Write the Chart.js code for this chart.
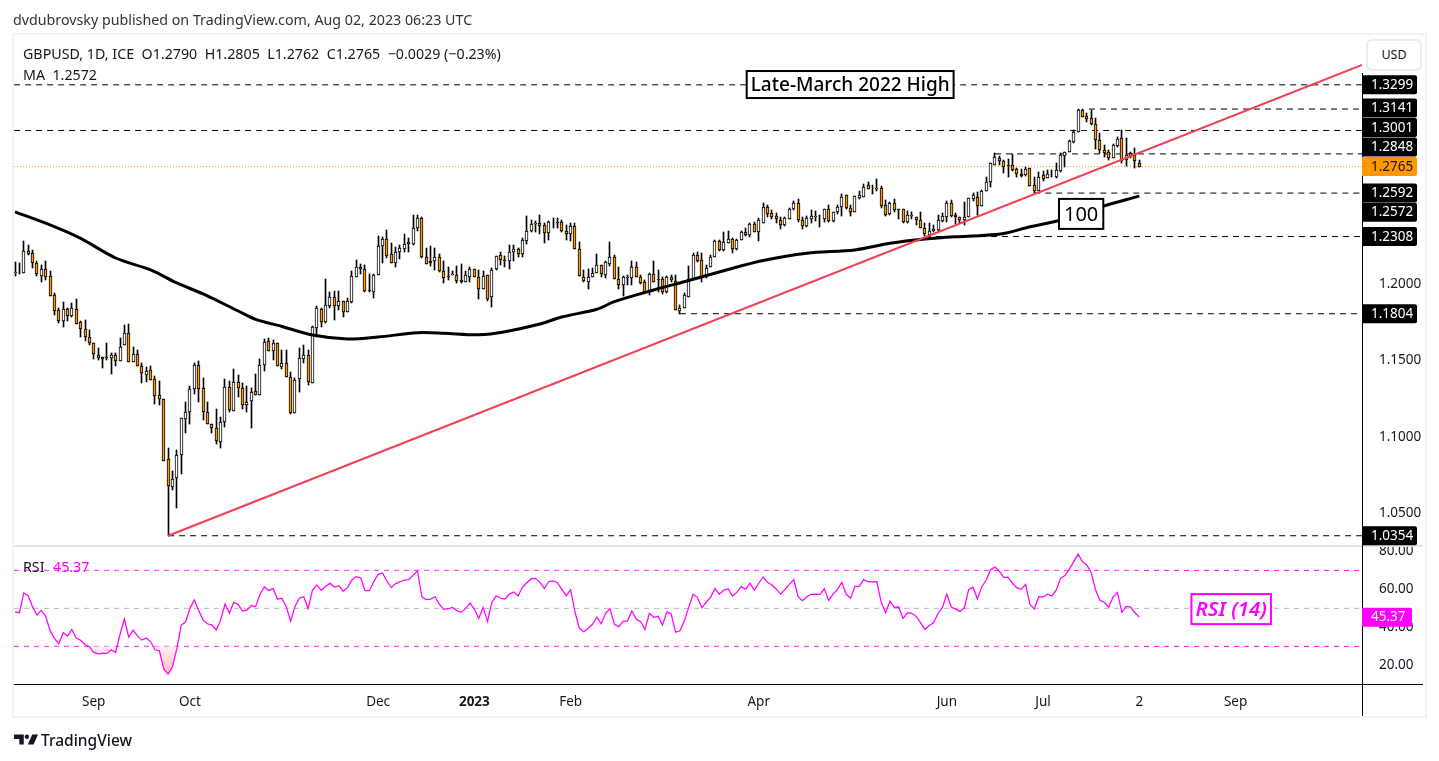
<!DOCTYPE html>
<html>
<head>
<meta charset="utf-8">
<title>GBPUSD</title>
<script src="https://cdn.jsdelivr.net/npm/chart.js@4"></script>
<style>
  html, body { margin: 0; padding: 0; background: #fff; width: 1439px; height: 761px; overflow: hidden; }
  body { font-family: "Noto Sans", sans-serif; color: #131722; }
  #chart { position: absolute; left: 0; top: 0; }
  .frame { position: absolute; left: 12px; top: 33px; width: 1411px; height: 681px; border: 2px solid #f0f3fa; }
  .txt { position: absolute; white-space: pre; font-size: 14.25px; line-height: 18px; }
  .usd { position: absolute; left: 1366px; top: 39px; width: 52px; height: 28px; border: 2px solid #e9ecf2; border-radius: 6px;
         background: #fff; text-align: center; line-height: 28px; font-size: 12.5px; }
</style>
</head>
<body>
<div class="frame"></div>
<canvas id="chart" width="1439" height="761"></canvas>
<div class="txt" style="left:13px;top:11px;color:#333">dvdubrovsky published on TradingView.com, Aug 02, 2023 06:23 UTC</div>
<div class="txt" style="left:23px;top:45px">GBPUSD, 1D, ICE  O1.2790  H1.2805  L1.2762  C1.2765  −0.0029 (−0.23%)</div>
<div class="txt" style="left:23px;top:66px">MA  1.2572</div>
<div class="txt" style="left:23px;top:558px">RSI</div>
<div class="txt" style="left:53px;top:558px;color:#ff00ff">45.37</div>
<div class="usd">USD</div>
<svg style="position:absolute;left:14px;top:733px" width="24" height="13" viewBox="0 0 27 13">
  <path fill="#131722" d="M0 1h11v11H6V6H0z"/><circle fill="#131722" cx="14.5" cy="3.5" r="2.5"/><path fill="#131722" d="M20.5 1H27l-5 11h-6.500z"/>
</svg>
<div class="txt" style="left:41px;top:731px;font-size:15.5px;font-weight:500">TradingView</div>

<script>
// ----------------------------
// Candles (one entry per trading day)
// ----------------------------
const opens = [
  1.2072,1.2074,1.2073,1.2214,1.2199,1.2134,1.2053,1.2094,1.2049,1.1925,
  1.1827,1.1759,1.1833,1.1792,1.1833,1.1748,1.1703,1.1649,1.1611,1.1537,
  1.1507,1.1519,1.1513,1.1533,1.1498,1.1598,1.1677,1.1487,1.1539,1.1465,
  1.1406,1.1435,1.1376,1.1272,1.1250,1.0854,1.0671,1.0730,1.0880,1.1119,
  1.1161,1.1315,1.1468,1.1317,1.1161,1.1082,1.1056,1.0965,1.1095,1.1324,
  1.1167,1.1357,1.1317,1.1210,1.1232,1.1298,1.1272,1.1468,1.1624,1.1563,
  1.1611,1.1458,1.1481,1.1389,1.1158,1.1376,1.1511,1.1537,1.1350,1.1709,
  1.1833,1.1752,1.1857,1.1912,1.1857,1.1885,1.1818,1.1883,1.2046,1.2108,
  1.2094,1.1957,1.1948,1.2055,1.2249,1.2290,1.2192,1.2134,1.2205,1.2229,
  1.2258,1.2262,1.2366,1.2428,1.2177,1.2147,1.2151,1.2177,1.2081,1.2049,
  1.2057,1.2059,1.2023,1.2013,1.2046,1.2098,1.2042,1.1964,1.2055,1.1912,
  1.2094,1.2186,1.2155,1.2147,1.2205,1.2225,1.2194,1.2281,1.2347,1.2390,
  1.2395,1.2382,1.2330,1.2400,1.2405,1.2401,1.2347,1.2323,1.2377,1.2225,
  1.2046,1.2013,1.2042,1.2068,1.2121,1.2059,1.2131,1.2173,1.2029,1.1994,
  1.2037,1.2037,1.2111,1.2042,1.2010,1.1944,1.2062,1.2029,1.2029,1.1944,
  1.2042,1.2020,1.1824,1.1840,1.1916,1.2029,1.2186,1.2155,1.2042,1.2108,
  1.2177,1.2277,1.2219,1.2264,1.2290,1.2229,1.2284,1.2336,1.2317,1.2390,
  1.2336,1.2395,1.2501,1.2460,1.2443,1.2416,1.2382,1.2425,1.2486,1.2525,
  1.2414,1.2377,1.2425,1.2434,1.2441,1.2425,1.2486,1.2408,1.2467,1.2499,
  1.2578,1.2493,1.2471,1.2562,1.2569,1.2645,1.2617,1.2621,1.2623,1.2514,
  1.2456,1.2527,1.2488,1.2488,1.2403,1.2443,1.2434,1.2414,1.2366,1.2320,
  1.2343,1.2351,1.2412,1.2436,1.2527,1.2449,1.2438,1.2414,1.2438,1.2556,
  1.2569,1.2510,1.2608,1.2663,1.2777,1.2819,1.2800,1.2774,1.2773,1.2747,
  1.2715,1.2712,1.2754,1.2643,1.2604,1.2708,1.2689,1.2713,1.2699,1.2738,
  1.2836,1.2858,1.2926,1.2989,1.3135,1.3094,1.3080,1.3041,1.2939,1.2873,
  1.2858,1.2819,1.2902,1.2950,1.2808,1.2852,1.2841,1.2790
];
const highs = [
  1.2142,1.2134,1.2279,1.2253,1.2221,1.2149,1.2123,1.2149,1.2083,1.1938,
  1.1840,1.1879,1.1844,1.1872,1.1901,1.1757,1.1763,1.1698,1.1615,1.1581,
  1.1520,1.1611,1.1546,1.1546,1.1648,1.1731,1.1737,1.1589,1.1568,1.1481,
  1.1458,1.1463,1.1398,1.1365,1.1250,1.0928,1.0779,1.0915,1.1121,1.1230,
  1.1332,1.1485,1.1496,1.1383,1.1226,1.1084,1.1182,1.1132,1.1376,1.1365,
  1.1443,1.1404,1.1350,1.1332,1.1317,1.1409,1.1507,1.1639,1.1648,1.1633,
  1.1611,1.1568,1.1568,1.1426,1.1385,1.1581,1.1600,1.1568,1.1726,1.1855,
  1.1840,1.2031,1.1944,1.1955,1.1955,1.1885,1.1905,1.2083,1.2155,1.2129,
  1.2123,1.2064,1.2064,1.2312,1.2307,1.2351,1.2266,1.2242,1.2253,1.2323,
  1.2301,1.2449,1.2449,1.2434,1.2234,1.2247,1.2232,1.2194,1.2149,1.2111,
  1.2083,1.2116,1.2127,1.2085,1.2111,1.2098,1.2090,1.2083,1.2055,1.2101,
  1.2179,1.2205,1.2181,1.2253,1.2253,1.2236,1.2301,1.2443,1.2416,1.2407,
  1.2449,1.2399,1.2410,1.2431,1.2427,1.2416,1.2384,1.2395,1.2395,1.2271,
  1.2090,1.2094,1.2101,1.2192,1.2123,1.2149,1.2271,1.2188,1.2111,1.2051,
  1.2057,1.2149,1.2144,1.2057,1.2025,1.2068,1.2149,1.2090,1.2042,1.2053,
  1.2057,1.2057,1.1861,1.1938,1.2116,1.2199,1.2209,1.2199,1.2123,1.2188,
  1.2286,1.2286,1.2336,1.2345,1.2297,1.2292,1.2346,1.2364,1.2399,1.2403,
  1.2427,1.2525,1.2514,1.2482,1.2460,1.2438,1.2438,1.2497,1.2542,1.2551,
  1.2438,1.2443,1.2482,1.2475,1.2449,1.2486,1.2512,1.2469,1.2512,1.2586,
  1.2578,1.2514,1.2575,1.2606,1.2652,1.2666,1.2645,1.2684,1.2638,1.2547,
  1.2536,1.2554,1.2488,1.2491,1.2477,1.2471,1.2438,1.2471,1.2395,1.2395,
  1.2384,1.2449,1.2460,1.2542,1.2547,1.2460,1.2438,1.2534,1.2562,1.2595,
  1.2599,1.2612,1.2699,1.2787,1.2852,1.2836,1.2808,1.2813,1.2845,1.2758,
  1.2749,1.2764,1.2754,1.2697,1.2732,1.2736,1.2743,1.2743,1.2787,1.2852,
  1.2862,1.2939,1.3004,1.3141,1.3141,1.3113,1.3135,1.3082,1.2985,1.2906,
  1.2873,1.2911,1.2960,1.3001,1.2952,1.2860,1.2886,1.2805
];
const lows = [
  1.2051,1.2064,1.2073,1.2190,1.2105,1.2051,1.2013,1.2025,1.1922,1.1796,
  1.1746,1.1720,1.1759,1.1785,1.1739,1.1654,1.1628,1.1602,1.1507,1.1502,
  1.1448,1.1502,1.1409,1.1465,1.1498,1.1598,1.1487,1.1487,1.1461,1.1354,
  1.1359,1.1370,1.1215,1.1210,1.0841,1.0354,1.0653,1.0538,1.0758,1.1027,
  1.1084,1.1280,1.1230,1.1110,1.1086,1.1024,1.0956,1.0926,1.1063,1.1165,
  1.1167,1.1259,1.1180,1.1165,1.1060,1.1276,1.1272,1.1432,1.1561,1.1502,
  1.1465,1.1441,1.1389,1.1152,1.1154,1.1295,1.1483,1.1337,1.1350,1.1650,
  1.1716,1.1742,1.1840,1.1763,1.1829,1.1785,1.1818,1.1872,1.2046,1.2064,
  1.1948,1.1948,1.1905,1.2055,1.2138,1.2170,1.2134,1.2111,1.2160,1.2209,
  1.2209,1.2253,1.2347,1.2166,1.2127,1.2118,1.2090,1.2075,1.2003,1.2025,
  1.2057,1.2003,1.2007,1.2013,1.2010,1.2042,1.1902,1.1964,1.1885,1.1846,
  1.2092,1.2121,1.2108,1.2094,1.2149,1.2177,1.2177,1.2260,1.2335,1.2338,
  1.2325,1.2268,1.2286,1.2362,1.2362,1.2336,1.2286,1.2281,1.2225,1.2053,
  1.2013,1.1968,1.2042,1.2068,1.2046,1.2036,1.2116,1.2029,1.1966,1.1920,
  1.1992,1.1992,1.2042,1.1997,1.1946,1.1927,1.2013,1.1948,1.1931,1.1938,
  1.2013,1.1827,1.1804,1.1840,1.1912,1.2029,1.2144,1.2013,1.2036,1.2108,
  1.2177,1.2214,1.2214,1.2264,1.2199,1.2221,1.2284,1.2312,1.2303,1.2336,
  1.2281,1.2395,1.2438,1.2421,1.2395,1.2356,1.2379,1.2423,1.2482,1.2405,
  1.2358,1.2373,1.2395,1.2410,1.2373,1.2405,1.2401,1.2403,1.2454,1.2443,
  1.2486,1.2444,1.2471,1.2555,1.2569,1.2621,1.2584,1.2608,1.2493,1.2444,
  1.2449,1.2467,1.2421,1.2399,1.2399,1.2421,1.2384,1.2366,1.2312,1.2308,
  1.2338,1.2347,1.2405,1.2405,1.2438,1.2388,1.2399,1.2384,1.2438,1.2542,
  1.2449,1.2510,1.2608,1.2634,1.2775,1.2775,1.2721,1.2699,1.2736,1.2695,
  1.2695,1.2704,1.2640,1.2592,1.2604,1.2673,1.2689,1.2699,1.2693,1.2732,
  1.2764,1.2858,1.2917,1.2989,1.3087,1.3058,1.3039,1.2878,1.2852,1.2828,
  1.2808,1.2819,1.2895,1.2791,1.2769,1.2821,1.2754,1.2762
];
const closes = [
  1.2078,1.2079,1.2214,1.2196,1.2134,1.2062,1.2094,1.2046,1.1922,1.1824,
  1.1759,1.1833,1.1792,1.1840,1.1739,1.1703,1.1649,1.1616,1.1539,1.1513,
  1.1520,1.1513,1.1533,1.1496,1.1585,1.1677,1.1487,1.1539,1.1461,1.1415,
  1.1428,1.1373,1.1269,1.1250,1.0841,1.0677,1.0723,1.0880,1.1121,1.1161,
  1.1311,1.1468,1.1315,1.1161,1.1086,1.1056,1.0971,1.1095,1.1324,1.1176,
  1.1357,1.1317,1.1210,1.1230,1.1291,1.1276,1.1468,1.1618,1.1563,1.1611,
  1.1465,1.1481,1.1389,1.1158,1.1370,1.1513,1.1537,1.1357,1.1716,1.1840,
  1.1752,1.1859,1.1912,1.1857,1.1885,1.1818,1.1885,1.2051,1.2108,1.2094,
  1.1955,1.1951,1.2057,1.2245,1.2292,1.2183,1.2134,1.2205,1.2232,1.2258,
  1.2271,1.2362,1.2428,1.2177,1.2131,1.2136,1.2177,1.2081,1.2036,1.2042,
  1.2064,1.2020,1.2013,1.2055,1.2094,1.2042,1.1964,1.2049,1.1902,1.2088,
  1.2179,1.2153,1.2147,1.2205,1.2225,1.2192,1.2284,1.2343,1.2390,1.2395,
  1.2375,1.2330,1.2401,1.2405,1.2395,1.2347,1.2323,1.2377,1.2225,1.2053,
  1.2020,1.2046,1.2068,1.2121,1.2062,1.2140,1.2173,1.2029,1.1994,1.2042,
  1.2042,1.2111,1.2046,1.2007,1.1946,1.2062,1.2013,1.2025,1.1944,1.2042,
  1.2023,1.1827,1.1840,1.1925,1.2029,1.2186,1.2151,1.2042,1.2105,1.2177,
  1.2279,1.2219,1.2271,1.2290,1.2229,1.2284,1.2336,1.2317,1.2390,1.2336,
  1.2416,1.2501,1.2457,1.2438,1.2421,1.2382,1.2427,1.2486,1.2525,1.2416,
  1.2377,1.2427,1.2441,1.2441,1.2445,1.2486,1.2412,1.2469,1.2499,1.2565,
  1.2493,1.2467,1.2573,1.2578,1.2630,1.2621,1.2621,1.2625,1.2508,1.2447,
  1.2527,1.2482,1.2484,1.2403,1.2449,1.2448,1.2418,1.2366,1.2323,1.2343,
  1.2356,1.2414,1.2443,1.2527,1.2444,1.2434,1.2416,1.2438,1.2560,1.2578,
  1.2510,1.2608,1.2663,1.2787,1.2826,1.2800,1.2764,1.2770,1.2741,1.2715,
  1.2706,1.2749,1.2640,1.2604,1.2695,1.2686,1.2715,1.2708,1.2741,1.2839,
  1.2858,1.2932,1.2989,1.3135,1.3091,1.3076,1.3041,1.2939,1.2872,1.2856,
  1.2823,1.2906,1.2943,1.2802,1.2841,1.2836,1.2802,1.2765
];

// ----------------------------
// Indicators
// ----------------------------
const maBars = [0,8,15,23,31,37,43,51,55,61,68,76,83,92,98,106,112,120,125,133,137,146,154,163,171,181,192,200,208,215,221,226,231,240,248,257];
const maValues = [1.2469,1.2384,1.2296,1.2168,1.2090,1.2005,1.1933,1.1822,1.1767,1.1721,1.1665,1.1639,1.1652,1.1680,1.1677,1.1667,1.1687,1.1737,1.1783,1.1833,1.1883,1.1959,1.2021,1.2093,1.2152,1.2199,1.2221,1.2264,1.2292,1.2307,1.2315,1.2328,1.2364,1.2423,1.2501,1.2572];
const rsiValues = [
  48.2,47.7,58.1,56.7,50.9,46.5,48.9,46.0,38.4,34.2,
  31.4,37.2,35.4,38.9,34.4,33.2,31.0,29.8,26.8,26.1,
  26.3,26.3,28.2,26.8,36.3,44.4,34.9,38.6,35.4,33.3,
  34.4,32.4,28.2,27.7,18.1,15.4,19.3,28.9,41.2,42.8,
  50.0,54.4,48.8,43.8,41.9,41.2,38.6,43.8,52.3,47.5,
  53.2,52.1,48.6,49.1,51.4,50.9,57.4,61.4,59.3,60.5,
  54.9,55.3,50.9,43.3,51.0,55.3,56.1,50.0,59.6,62.3,
  59.5,61.6,63.2,61.2,61.9,59.0,60.9,64.9,66.7,66.1,
  59.5,59.3,64.0,67.9,68.6,64.4,60.9,63.0,64.0,64.9,
  65.1,67.5,69.8,56.1,54.6,54.9,56.1,52.1,49.5,49.8,
  50.5,48.8,47.9,50.0,52.8,49.6,44.7,
  50.5,43.0,53.2,56.6,55.3,54.9,57.5,58.6,56.5,61.2,
  63.5,65.6,65.8,63.7,60.5,64.0,64.4,63.5,60.0,56.6,
  59.8,48.2,39.5,37.7,39.5,41.6,45.4,41.9,47.4,49.8,
  41.7,40.2,43.3,43.3,48.6,44.4,43.0,38.9,47.4,45.3,
  45.8,41.2,48.1,47.0,37.4,38.2,43.3,50.5,57.4,55.8,
  50.3,53.2,55.8,60.5,57.4,59.5,60.3,56.5,58.4,61.4,
  60.0,63.3,59.5,63.2,66.5,63.7,62.3,60.2,57.5,60.0,
  62.6,65.1,56.1,54.0,56.1,57.4,57.5,57.4,60.3,54.2,
  57.5,60.0,63.7,57.4,55.3,61.6,61.7,65.1,64.0,63.9,
  64.0,53.2,47.7,53.8,50.5,50.7,44.7,47.7,47.4,45.8,
  42.5,38.9,41.0,42.5,47.4,50.5,57.5,
  50.7,49.6,48.4,50.3,60.0,61.0,54.9,61.4,64.9,70.3,
  71.7,69.6,66.3,66.3,63.2,60.9,60.0,62.6,52.1,49.6,
  56.1,56.0,57.4,56.5,59.6,65.8,67.2,70.5,74.6,78.6,
  74.6,72.8,68.8,59.6,54.2,53.2,50.5,56.1,58.4,47.9,
  51.0,50.7,47.7,45.37
];

// ----------------------------
// Axes, levels and labels
// ----------------------------
const timeTickBars = [18,40,83,105,127,170,213,235,257,279];
const timeTickLabels = ["Sep","Oct","Dec","2023","Feb","Apr","Jun","Jul","2","Sep"];
const priceTicks = [1.05,1.10,1.15,1.20];
const rsiTicks = [20,40,60,80];
const rsiBands = [70,30];

const levelValues = [1.3299,1.3141,1.3001,1.2848,1.2592,1.2308,1.1804,1.0354];
const levelStartBars = [-0.2,245.5,-0.2,224,233,208,152,35];
const trendBars = [35,307.9];
const trendValues = [1.0354,1.3429];
const lastPrice = 1.2765;
const lastRsi = 45.37;

const tagValues = [1.3299,1.3141,1.3001,1.2848,1.2592,1.2572,1.2308,1.1804,1.0354];
const tagShifts = [0,-1,-3,-7,0,16,0,0,0];

const FONT = '"Noto Sans", sans-serif';
const AXIS_END = 307.9;
const AXIS_START = -0.23;
const ORANGE = "#ff9800";
const MAGENTA = "#ff00ff";

const ctx2d = document.getElementById("chart").getContext("2d");
const oversoldFill = ctx2d.createLinearGradient(0, 646, 0, 676);
oversoldFill.addColorStop(0, "#fff0f0");
oversoldFill.addColorStop(1, "#ffbcbc");

// ----------------------------
// Plugins
// ----------------------------
// Snap candles to whole pixels, the way the original is drawn
const snapCandles = {
  id: "snapCandles",
  afterDatasetsUpdate(chart) {
    chart.data.datasets.forEach((ds, i) => {
      if (ds.type !== "bar") return;
      chart.getDatasetMeta(i).data.forEach(el => {
        el.x = Math.floor(el.x) + 0.5;
        el.y = Math.round(el.y);
        el.base = Math.round(el.base);
      });
    });
  }
};

const paneLines = {
  id: "paneLines",
  afterDatasetsDraw(chart) {
    const { ctx, chartArea } = chart;
    const divider = chart.scales.y.bottom;
    ctx.save();
    ctx.fillStyle = "#e0e3eb";
    ctx.fillRect(14, divider - 1, 1409, 2);
    ctx.fillStyle = "#000";
    ctx.fillRect(14, chartArea.bottom, 1409, 1);
    ctx.fillRect(chartArea.right, 73, 1, 643);
    ctx.restore();
  }
};

function drawTag(ctx, x, y, w, bg, fg, text) {
  ctx.fillStyle = bg;
  ctx.beginPath();
  ctx.roundRect(x, y - 9.5, w, 19, [0, 2, 2, 0]);
  ctx.fill();
  ctx.fillStyle = fg;
  ctx.font = `13.5px ${FONT}`;
  ctx.textBaseline = "middle";
  ctx.textAlign = "left";
  ctx.fillText(text, x + 9, y + 0.5);
}

function drawNote(ctx, x, y, h, pad, color, font, text) {
  ctx.font = font;
  const w = ctx.measureText(text).width + pad * 2;
  ctx.fillStyle = "#fff";
  ctx.fillRect(x - w / 2, y - h / 2, w, h);
  ctx.strokeStyle = color;
  ctx.lineWidth = 2;
  ctx.strokeRect(x - w / 2, y - h / 2, w, h);
  ctx.fillStyle = color;
  ctx.textAlign = "center";
  ctx.textBaseline = "middle";
  ctx.fillText(text, x, y + 1);
}

const labels = {
  id: "labels",
  afterDraw(chart) {
    const { ctx, scales, chartArea } = chart;
    const px = v => scales.x.getPixelForValue(v);
    ctx.save();
    drawNote(ctx, px(190.9), scales.y.getPixelForValue(1.3301), 27, 4, "#000", `500 19px ${FONT}`, "Late-March 2022 High");
    drawNote(ctx, px(243.7), scales.y.getPixelForValue(1.2456), 30, 5, "#000", `20px ${FONT}`, "100");
    drawNote(ctx, px(278), scales.rsi.getPixelForValue(49.6), 30, 4, MAGENTA, `italic 600 20.5px ${FONT}`, "RSI (14)");

    tagValues.forEach((v, i) => {
      drawTag(ctx, chartArea.right, scales.y.getPixelForValue(v) + tagShifts[i], 55, "#000", "#fff", v.toFixed(4));
    });
    drawTag(ctx, chartArea.right, scales.y.getPixelForValue(lastPrice), 55, ORANGE, "#131722", lastPrice.toFixed(4));
    drawTag(ctx, chartArea.right, scales.rsi.getPixelForValue(lastRsi), 50, MAGENTA, "#fff", lastRsi.toFixed(2));
    ctx.restore();
  }
};

// ----------------------------
// Datasets
// ----------------------------
const barIndex = opens.map((_, i) => i);

const levelSets = levelValues.map((v, i) => ({
  type: "line",
  order: 7,
  data: [{ x: levelStartBars[i], y: v }, { x: AXIS_END, y: v }],
  borderColor: "#000",
  borderWidth: 1,
  borderDash: [6, 5],
  pointRadius: 0,
  yAxisID: "y"
}));

const rsiBandSets = rsiBands.map(v => ({
  type: "line",
  order: 7,
  data: [{ x: AXIS_START, y: v }, { x: AXIS_END, y: v }],
  borderColor: MAGENTA,
  borderWidth: 1,
  borderDash: [5, 5],
  pointRadius: 0,
  yAxisID: "rsi"
}));

const datasets = [
  ...levelSets,
  {
    type: "line",
    order: 7,
    data: [{ x: AXIS_START, y: lastPrice }, { x: AXIS_END, y: lastPrice }],
    borderColor: ORANGE,
    borderWidth: 1,
    borderDash: [1, 2],
    pointRadius: 0,
    yAxisID: "y"
  },
  {
    type: "bar",
    order: 6,
    data: barIndex.map(i => ({ x: i, y: [lows[i], highs[i]] })),
    backgroundColor: "#000",
    borderWidth: 0,
    barThickness: 1,
    grouped: false,
    yAxisID: "y"
  },
  {
    type: "bar",
    order: 5,
    data: barIndex.map(i => ({ x: i, y: [Math.min(opens[i], closes[i]), Math.max(opens[i], closes[i])] })),
    backgroundColor: barIndex.map(i => closes[i] >= opens[i] ? "#fff" : ORANGE),
    borderColor: "#000",
    borderWidth: 1,
    borderSkipped: false,
    barThickness: 3,
    grouped: false,
    yAxisID: "y"
  },
  {
    type: "line",
    order: 4,
    data: maBars.map((b, i) => ({ x: b, y: maValues[i] })),
    borderColor: "#000",
    borderWidth: 3,
    tension: 0.3,
    pointRadius: 0,
    yAxisID: "y"
  },
  {
    type: "line",
    order: 3,
    data: trendBars.map((b, i) => ({ x: b, y: trendValues[i] })),
    borderColor: "#f23f52",
    borderWidth: 2,
    pointRadius: 0,
    yAxisID: "y"
  },
  ...rsiBandSets,
  {
    type: "line",
    order: 7,
    data: [{ x: AXIS_START, y: 50 }, { x: AXIS_END, y: 50 }],
    borderColor: "#b2b5be",
    borderWidth: 1,
    borderDash: [5, 5],
    pointRadius: 0,
    yAxisID: "rsi"
  },
  {
    // overbought shading only
    type: "line",
    order: 6,
    data: barIndex.map(i => ({ x: i, y: rsiValues[i] })),
    borderWidth: 0,
    pointRadius: 0,
    fill: { target: { value: 70 }, above: "#e8f3ea", below: "rgba(0,0,0,0)" },
    yAxisID: "rsi"
  },
  {
    type: "line",
    order: 2,
    data: barIndex.map(i => ({ x: i, y: rsiValues[i] })),
    borderColor: MAGENTA,
    borderWidth: 1.25,
    pointRadius: 0,
    fill: { target: { value: 30 }, above: "rgba(0,0,0,0)", below: oversoldFill },
    yAxisID: "rsi"
  }
];

// ----------------------------
// Chart
// ----------------------------
new Chart(ctx2d, {
  type: "bar",
  data: { datasets },
  plugins: [snapCandles, paneLines, labels],
  options: {
    responsive: false,
    devicePixelRatio: 1,
    animation: false,
    layout: { padding: { left: 14, top: 36, right: 12, bottom: 45 } },
    plugins: { legend: { display: false }, tooltip: { enabled: false } },
    scales: {
      x: {
        type: "linear",
        offset: false,
        min: AXIS_START,
        max: AXIS_END,
        grid: { display: false },
        border: { display: false },
        afterBuildTicks(scale) { scale.ticks = timeTickBars.map(value => ({ value })); },
        afterFit(scale) { scale.height = 32; },
        ticks: {
          autoSkip: false,
          maxRotation: 0,
          padding: 2,
          color: "#131722",
          font: ctx => ({ family: FONT, size: 13.5, weight: timeTickLabels[ctx.index] === "2023" ? "bold" : "normal" }),
          callback: (v, i) => timeTickLabels[i]
        }
      },
      y: {
        position: "right",
        stack: "panes",
        stackWeight: 510,
        min: 1.0287,
        max: 1.3618,
        grid: { display: false },
        border: { display: false },
        afterBuildTicks(scale) { scale.ticks = priceTicks.map(value => ({ value })); },
        afterFit(scale) { scale.width = 65; },
        ticks: {
          padding: 9,
          color: "#131722",
          font: { family: FONT, size: 13.5 },
          callback: v => v.toFixed(4)
        }
      },
      rsi: {
        position: "right",
        stack: "panes",
        stackWeight: 138,
        min: 10.2,
        max: 82.8,
        grid: { display: false },
        border: { display: false },
        afterBuildTicks(scale) { scale.ticks = rsiTicks.map(value => ({ value })); },
        afterFit(scale) { scale.width = 65; },
        ticks: {
          padding: 9,
          color: "#131722",
          font: { family: FONT, size: 13.5 },
          callback: v => v.toFixed(2)
        }
      }
    }
  }
});
</script>
</body>
</html>
